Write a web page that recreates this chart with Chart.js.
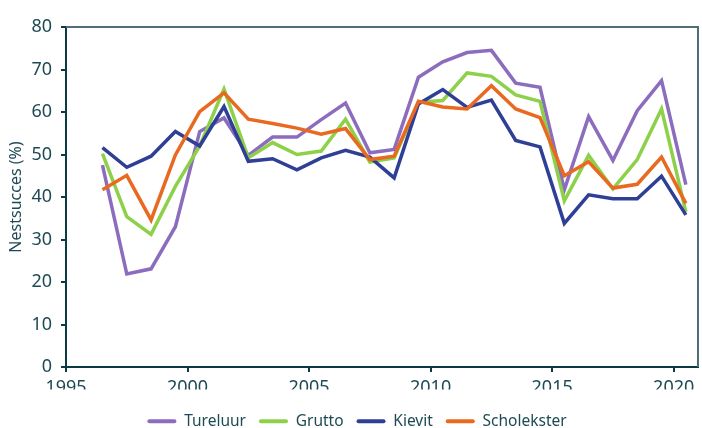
<!DOCTYPE html>
<html>
<head>
<meta charset="utf-8">
<script src="https://cdn.jsdelivr.net/npm/chart.js@4"></script>
<style>
  html, body { margin: 0; padding: 0; background: #fff; }
  #wrap { width: 702px; height: 428px; }
</style>
</head>
<body>
<div id="wrap"><canvas id="nestChart"></canvas></div>
<script>
// nestsucces per jaar, weidevogels

const years = [1996, 1997, 1998, 1999, 2000, 2001, 2002, 2003, 2004, 2005, 2006, 2007, 2008,
  2009, 2010, 2011, 2012, 2013, 2014, 2015, 2016, 2017, 2018, 2019, 2020];
const xTickLabels = [1995, 2000, 2005, 2010, 2015, 2020];

const tureluur = [47.5, 21.9, 23.1, 33.0, 55.4, 58.6, 49.8, 54.1, 54.1, 58.2, 62.1, 50.4, 51.2,
  68.2, 71.8, 74.0, 74.5, 66.8, 65.8, 41.7, 58.9, 48.6, 60.3, 67.4, 42.9];
const grutto = [50.2, 35.4, 31.2, 42.5, 52.0, 65.4, 49.2, 52.8, 50.0, 50.8, 58.3, 48.2, 49.2,
  62.3, 62.7, 69.2, 68.4, 64.0, 62.5, 39.1, 49.8, 41.9, 48.8, 60.7, 36.5];
const kievit = [51.6, 47.0, 49.6, 55.4, 52.0, 61.3, 48.4, 49.0, 46.4, 49.2, 51.0, 49.4, 44.5,
  61.9, 65.3, 61.1, 62.8, 53.3, 51.8, 33.8, 40.5, 39.6, 39.6, 44.9, 35.8];
const scholekster = [41.7, 45.1, 34.6, 49.9, 60.1, 64.5, 58.3, 57.3, 56.2, 54.8, 56.1, 48.8, 49.6,
  62.5, 61.2, 60.7, 66.2, 60.7, 58.7, 45.0, 48.3, 42.1, 43.0, 49.4, 38.5];

const seriesNames = ['Tureluur', 'Grutto', 'Kievit', 'Scholekster'];
const seriesColors = ['#8c6cbd', '#8dd04a', '#2f3f96', '#e8691f'];

const axisColor = '#0b3a44';
const textColor = '#1e4a54';

// punten staan midden in het jaar
function toPoints(values) {
  return values.map((v, i) => ({ x: years[i] + 0.5, y: v }));
}

const allSeries = [tureluur, grutto, kievit, scholekster];

const datasets = allSeries.map((values, i) => ({
  label: seriesNames[i],
  data: toPoints(values),
  borderColor: seriesColors[i],
  backgroundColor: seriesColors[i],
  borderWidth: 3.5,
  pointRadius: 0,
  tension: 0,
  fill: false,
  order: allSeries.length - i, // Scholekster bovenop
}));

// kader boven en rechts
const framePlugin = {
  id: 'frame',
  afterDatasetsDraw(chart) {
    const { ctx, chartArea } = chart;
    ctx.save();
    ctx.strokeStyle = '#4f6f76';
    ctx.lineWidth = 2;
    ctx.beginPath();
    ctx.moveTo(chartArea.left, chartArea.top);
    ctx.lineTo(chartArea.right, chartArea.top);
    ctx.lineTo(chartArea.right, chartArea.bottom);
    ctx.stroke();
    ctx.restore();
  }
};

// legenda iets verschuiven
const legendShift = {
  id: 'legendShift',
  afterLayout(chart) {
    const lg = chart.legend;
    lg.left += 8;
    lg.right += 8;
    lg.top += 11;
    lg.bottom += 11;
  }
};

const ctx = document.getElementById('nestChart').getContext('2d');
new Chart(ctx, {
  type: 'line',
  data: { datasets: datasets },
  options: {
    responsive: true,
    maintainAspectRatio: false,
    animation: false,
    layout: { padding: { top: 27, right: 4, left: 0, bottom: 0 } },
    font: { family: "'Noto Sans', sans-serif" },
    scales: {
      x: {
        type: 'linear',
        min: 1995,
        max: 2021,
        afterBuildTicks: (scale) => {
          scale.ticks = xTickLabels.map(v => ({ value: v }));
        },
        afterFit: (scale) => { scale.height = 22.5; },
        ticks: {
          color: textColor,
          padding: 5,
          maxRotation: 0,
          autoSkip: false,
          font: { family: "'Noto Sans', sans-serif", size: 18 },
          callback: (v) => String(v),
        },
        grid: { drawOnChartArea: false, drawTicks: true, tickLength: 5, color: axisColor, lineWidth: 2 },
        border: { display: true, color: axisColor, width: 2 },
      },
      y: {
        min: 0,
        max: 80,
        afterFit: (scale) => { scale.width = 66; },
        ticks: {
          stepSize: 10,
          color: textColor,
          padding: 9,
          font: { family: "'Noto Sans', sans-serif", size: 18 },
        },
        grid: { drawOnChartArea: false, drawTicks: true, tickLength: 5, color: axisColor, lineWidth: 2 },
        border: { display: true, color: axisColor, width: 2 },
        title: {
          display: true,
          text: 'Nestsucces (%)',
          color: textColor,
          padding: { top: 7, bottom: 0 },
          font: { family: "'Noto Sans', sans-serif", size: 16 },
        },
      },
    },
    plugins: {
      tooltip: { enabled: false },
      legend: {
        position: 'bottom',
        labels: {
          boxWidth: 29,
          boxHeight: 4,
          padding: 13,
          color: textColor,
          useBorderRadius: true,
          borderRadius: 2,
          font: { family: "'Noto Sans', sans-serif", size: 15.5 },
          sort: (a, b) => a.datasetIndex - b.datasetIndex,
          generateLabels: (chart) => Chart.defaults.plugins.legend.labels.generateLabels(chart)
            .map(item => ({ ...item, lineWidth: 0, fillStyle: item.strokeStyle })),
        },
      },
    },
  },
  plugins: [framePlugin, legendShift],
});
</script>
</body>
</html>
